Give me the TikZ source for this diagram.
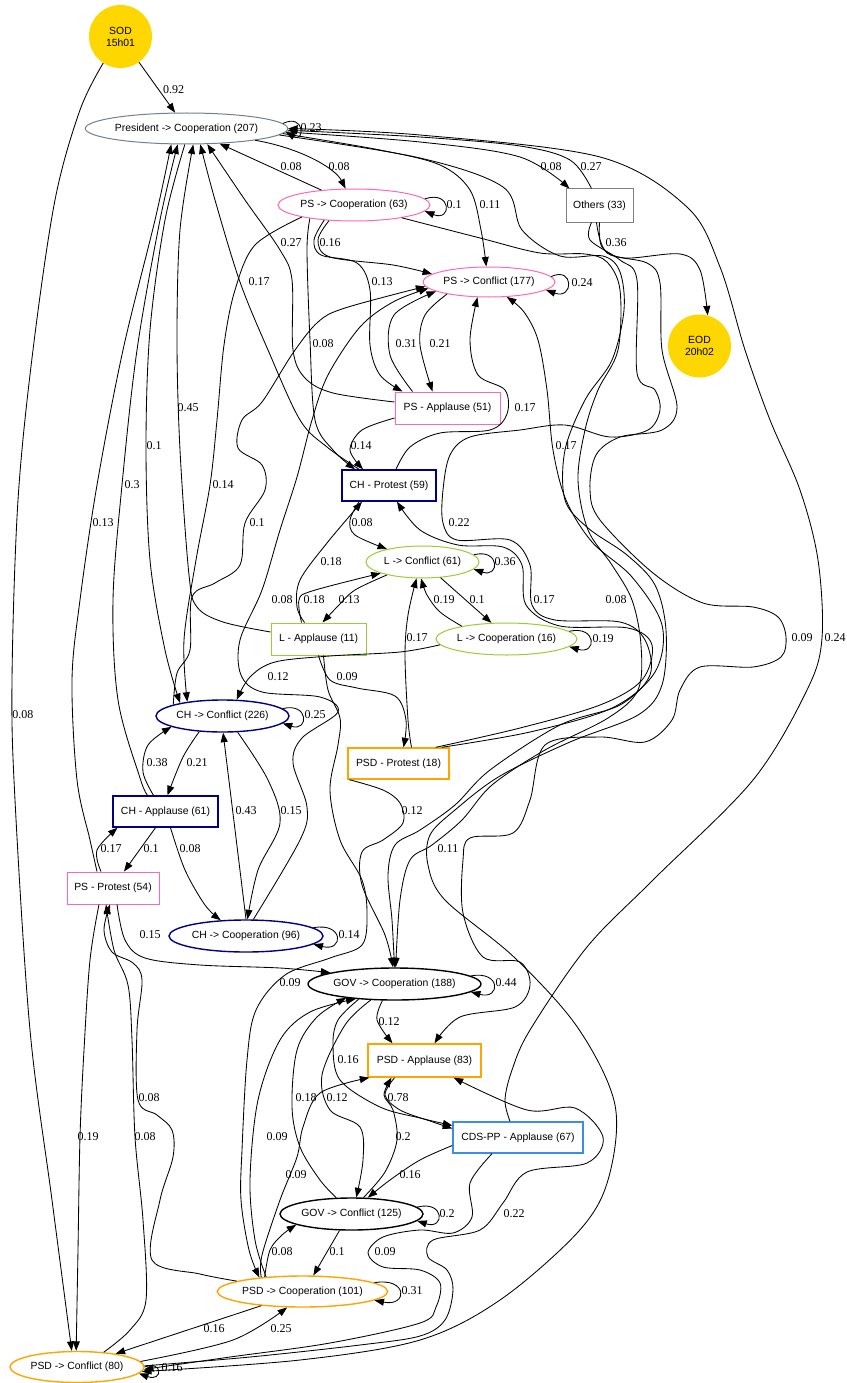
\documentclass[tikz,border=0pt]{standalone}
\usepackage{fontspec}
\newfontfamily\nodefam{Liberation Sans}
\newfontfamily\lblfam{Liberation Serif}
\usetikzlibrary{shapes.geometric,arrows.meta}
\definecolor{gold}{HTML}{FFD700}
\definecolor{slate}{HTML}{708090}
\definecolor{hpink}{HTML}{FF69B4}
\definecolor{navyc}{HTML}{000080}
\definecolor{ygreen}{HTML}{9ACD32}
\definecolor{orangec}{HTML}{FFA500}
\definecolor{cdsblue}{HTML}{3A8EE6}
\definecolor{grayc}{HTML}{808080}
\begin{document}
\begin{tikzpicture}[x=1pt,y=-1pt,
  nell/.style={ellipse, draw, inner sep=0pt, line width=1pt, font=\nodefam\fontsize{10.4}{12}\selectfont},
  nbox/.style={rectangle, draw, inner sep=0pt, line width=1pt, font=\nodefam\fontsize{10.4}{12}\selectfont},
  ncirc/.style={circle, fill=gold, inner sep=0pt, minimum size=63, align=center, font=\nodefam\fontsize{10.4}{12}\selectfont},
  heavy/.style={line width=1.4pt},
  lbl/.style={inner sep=0pt, font=\lblfam\fontsize{12}{12}\selectfont},
  edg/.style={-{Triangle[length=9.5pt,width=7pt]}, line width=0.85pt},
  sm/.style={smooth, tension=0.55}
]
\useasboundingbox (0,0) rectangle (846,1383);

% ---------------- nodes
\node[ncirc] (SOD) at (120.5,36.5) {SOD\\15h01};
\node[ncirc] (EOD) at (699.5,346) {EOD\\20h02};
\node[nell, draw=slate, minimum width=197, minimum height=31] (PresCoop) at (186.5,128.5) {President -> Cooperation (207)};
\node[nell, draw=hpink, minimum width=152, minimum height=32] (PSCoop) at (354,205) {PS -> Cooperation (63)};
\node[nbox, draw=grayc, minimum width=67, minimum height=33] (Others) at (599.5,205.5) {Others (33)};
\node[nell, draw=hpink, minimum width=132, minimum height=30] (PSConf) at (489,282) {PS -> Conflict (177)};
\node[nbox, draw=hpink, minimum width=105, minimum height=32] (PSApp) at (447.5,408) {PS - Applause (51)};
\node[nbox, draw=navyc, heavy, minimum width=94, minimum height=31] (CHProt) at (389,485.5) {CH - Protest (59)};
\node[nell, draw=ygreen, minimum width=113, minimum height=32] (LConf) at (422.5,562) {L -> Conflict (61)};
\node[nbox, draw=ygreen, minimum width=95, minimum height=32] (LApp) at (318.5,639) {L - Applause (11)};
\node[nell, draw=ygreen, minimum width=141, minimum height=32] (LCoop) at (506.5,639) {L -> Cooperation (16)};
\node[nell, draw=navyc, heavy, minimum width=133, minimum height=32] (CHConf) at (222.5,716) {CH -> Conflict (226)};
\node[nbox, draw=orangec, heavy, minimum width=101, minimum height=31] (PSDProt) at (398.5,763.5) {PSD - Protest (18)};
\node[nbox, draw=navyc, heavy, minimum width=105, minimum height=31] (CHApp) at (165.5,811.5) {CH - Applause (61)};
\node[nbox, draw=hpink, minimum width=92, minimum height=32] (PSProt) at (113,888) {PS - Protest (54)};
\node[nell, draw=navyc, heavy, minimum width=154, minimum height=32] (CHCoop) at (246,936) {CH -> Cooperation (96)};
\node[nell, draw=black, heavy, minimum width=171, minimum height=32] (GOVCoop) at (394.5,984) {GOV -> Cooperation (188)};
\node[nbox, draw=orangec, heavy, minimum width=113, minimum height=33] (PSDApp) at (424.5,1060.5) {PSD - Applause (83)};
\node[nbox, draw=cdsblue, heavy, minimum width=130, minimum height=31] (CDSApp) at (518,1137.5) {CDS-PP - Applause (67)};
\node[nell, draw=black, heavy, minimum width=143, minimum height=32] (GOVConf) at (351.5,1214) {GOV -> Conflict (125)};
\node[nell, draw=orangec, heavy, minimum width=169, minimum height=31] (PSDCoop) at (302.5,1291.5) {PSD -> Cooperation (101)};
\node[nell, draw=orangec, heavy, minimum width=134, minimum height=31] (PSDConf) at (77,1367) {PSD -> Conflict (80)};

% ---------------- top edges
\draw[edg] (SOD) -- (PresCoop);
\draw[edg] plot[sm] coordinates {(SOD.-123) (80,110) (55,200) (33,350) (18,500) (12,680) (15,800) (30,1030) (52,1200) (PSDConf.108)};
\draw[edg] (PresCoop.3) .. controls (305,113) and (305,143) .. (PresCoop.-2);
\draw[edg] (PSCoop) -- (PresCoop);
\draw[edg] (PresCoop) .. controls (300,148) and (335,168) .. (PSCoop);
\draw[edg] (PSCoop.5) .. controls (452,190) and (452,222) .. (PSCoop.-5);
\draw[edg] plot[sm] coordinates {(PresCoop.-3) (380,150) (440,165) (470,190) (481,230) (PSConf.100)};
\draw[edg] plot[sm] coordinates {(PresCoop.-2) (420,142) (520,157) ([xshift=4]Others.north west)};
\draw[edg] plot[sm] coordinates {([xshift=-8]Others.north) (570,160) (520,146) (420,137) (PresCoop.-1)};
\draw[edg] plot[sm] coordinates {(Others.south) (602,247) (625,258) (680,254) (700,270) (EOD.75)};
\draw[edg] plot[sm] coordinates {([yshift=6]PSApp.west) (333,393) (305,378) (293,350) (292,280) (280,250) (245,200) (PresCoop.-37)};
\draw[edg] plot[sm] coordinates {(PSCoop.-148) (318,240) (330,257) (393,265) (PSConf.172)};
\draw[edg] plot[sm] coordinates {(PSCoop.-153) (314,240) (321,255) (357,263) (370,290) (370,345) (380,375) ([xshift=-45]PSApp.north)};
\draw[edg] (PSConf.5) .. controls (574,266) and (574,300) .. (PSConf.-8);
\draw[edg] plot[sm] coordinates {([xshift=-30]CHProt.north) (327,447) (300,420) (268,350) (240,282) (215,200) (PresCoop.-49)};
\draw[edg] plot[sm] coordinates {(PSCoop.-163) (307,250) (310,340) (315,420) (333,450) ([xshift=-34]CHProt.north)};
\draw[edg] plot[sm] coordinates {([xshift=-35]PSApp.north) (390,355) (394,315) (PSConf.-170)};
\draw[edg] plot[sm] coordinates {(PSConf.-164) (425,315) (420,345) ([xshift=-15]PSApp.north)};
\draw[edg] plot[sm] coordinates {([yshift=7]LApp.west) (223,622) (197,607) (189,575) (180,450) (177,340) (180,230) (PresCoop.-67)};
\draw[edg] plot[sm] coordinates {(PresCoop.-96) (165,220) (150,330) (146,446) (150,560) (165,650) (CHConf.163)};
\draw[edg] plot[sm] coordinates {([xshift=-18]CHApp.north) (140,778) (118,700) (113,600) (122,485) (137,350) (160,220) (PresCoop.-119)};
\draw[edg] plot[sm] coordinates {([xshift=-16]PSProt.north) (90,840) (77,780) (72,680) (80,600) (97,485) (123,350) (155,220) (PresCoop.-134)};
\draw[edg] plot[sm] coordinates {(PSCoop.-167) (255,245) (235,290) (224,345) (217,420) (210,485) (196,560) (184,640) (CHConf.158)};
\draw[edg] plot[sm] coordinates {(CHConf.167) (177,673) (190,650) (192,597) (215,583) (240,565) (245,523) (265,490) (262,465) (238,448) (242,420) (262,402) (293,353) (318,322) (345,308) (PSConf.-176)};
\draw[edg] plot[sm] coordinates {(CHCoop.66) (300,840) (307,807) (293,763) (302,738) (338,712) (320,697) (262,692) (241,675) (240,640) (262,590) (280,530) (297,477) (312,420) (328,375) (360,327) (393,302) (PSConf.-174)};

% ---------------- middle edges
\draw[edg] plot[sm] coordinates {([xshift=-14]LApp.north) (297,607) (300,580) (327,543) ([xshift=-27]CHProt.south)};
\draw[edg] plot[sm] coordinates {([xshift=-30]CHProt.south) (350,520) (355,535) (LConf.160)};
\draw[edg] (LConf.8) .. controls (500,548) and (500,578) .. (LConf.-8);
\draw[edg] plot[sm] coordinates {([xshift=-17]LApp.north) (299,600) (312,591) (LConf.-165)};
\draw[edg] plot[sm] coordinates {(LConf.-160) (355,590) (338,606) ([xshift=4]LApp.north)};
\draw[edg] plot[sm] coordinates {(LCoop.164) (440,612) (427,595) (LConf.-95)};
\draw[edg] (LConf.-41) -- (LCoop.133);
\draw[edg] (LCoop.7) .. controls (597,625) and (597,655) .. (LCoop.-7);
\draw[edg] plot[sm] coordinates {([xshift=13]PSDProt.north) (408,720) (405,655) (408,615) (LConf.-110)};
\draw[edg] plot[sm] coordinates {(LCoop.-175) (400,652) (330,656) (275,662) (250,677) (CHConf.49)};
\draw[edg] plot[sm] coordinates {(LApp.south) (330,680) (357,688) (395,696) (406,720) ([xshift=5]PSDProt.north)};
\draw[edg] plot[sm] coordinates {([yshift=-10]PSApp.west) (362,430) (350,450) ([xshift=-26]CHProt.north)};
\draw[edg] plot[sm] coordinates {([xshift=7]CHProt.north) (410,447) (440,433) (490,430) (507,414) (505,390) (478,375) (470,340) (PSConf.-127)};
\draw[edg] (CHConf.7) .. controls (309,702) and (309,732) .. (CHConf.-7);
\draw[edg] plot[sm] coordinates {([xshift=-12]CHApp.north) (143,772) (148,745) (CHConf.-168)};
\draw[edg] plot[sm] coordinates {(CHConf.-146) (183,757) ([xshift=2]CHApp.north)};
\draw[edg] (CHCoop.90) -- (CHConf.-88);
\draw[edg] plot[sm] coordinates {(CHConf.-47) (268,780) (280,823) (258,870) (CHCoop.85)};
\draw[edg] (CHCoop.7) .. controls (344,922) and (344,952) .. (CHCoop.-7);
\draw[edg] plot[sm] coordinates {([xshift=-12]PSProt.north) (97,850) ([xshift=-48]CHApp.south)};
\draw[edg] ([xshift=-10]CHApp.south) -- ([xshift=11]PSProt.north);
\draw[edg] plot[sm] coordinates {([xshift=5]CHApp.south) (185,870) (205,905) (CHCoop.148)};
\draw[edg] plot[sm] coordinates {([xshift=4]PSProt.south) (125,940) (145,958) (200,965) (280,968) (GOVCoop.170)};
\draw[edg] plot[sm] coordinates {([xshift=2]PSDProt.south west) (383,790) (400,803) (403,823) (383,840) (362,852) (362,885) (385,935) (GOVCoop.95)};

% ---------------- right long edges
\draw[edg] plot[sm] coordinates {([xshift=-14]PSDProt.north east) (520,728) (600,705) (642,680) (652,645) (628,628) (560,626) (526,605) (522,565) (503,547) (458,545) (420,530) ([xshift=8]CHProt.south)};
\draw[edg] plot[sm] coordinates {([xshift=-8]PSDProt.north east) (530,732) (612,708) (655,672) (662,625) (632,577) (592,542) (566,500) (553,450) (547,390) (538,340) (524,312) (PSConf.-40)};
\draw[edg] plot[sm] coordinates {(PSCoop.-15) (480,238) (540,253) (585,254) (607,262) (620,290) (618,350) (598,390) (585,430) (578,480) (588,530) (612,565) (632,600) (641,645) (638,690) (608,718) (545,750) (492,785) (462,820) (432,845) (410,860) (400,900) (GOVCoop.86)};
\draw[edg] plot[sm] coordinates {([xshift=-8]Others.south) (590,240) (620,260) (637,280) (637,373) (655,390) (660,410) (648,430) (610,437) (565,425) (520,430) (470,437) (450,455) (443,490) (443,523) (457,540) (510,540) (530,565) (532,605) (555,620) (620,622) (645,640) (650,675) (620,705) (560,725) (490,770) (455,805) (420,830) (395,845) (388,875) (392,920) (GOVCoop.90)};
\draw[edg] plot[sm] coordinates {([xshift=-3]Others.south) (607,253) (647,263) (660,283) (662,350) (677,407) (662,430) (620,437) (596,455) (590,490) (600,520) (653,573) (703,603) (753,607) (778,617) (786,637) (781,657) (753,667) (700,667) (680,690) (672,720) (645,742) (600,737) (545,745) (530,800) (513,833) (470,838) (463,860) (463,913) (483,957) (520,962) (530,985) (515,1007) (460,1017) ([xshift=10]PSDApp.north)};
\draw[edg] plot[sm] coordinates {(PresCoop.-4) (420,158) (503,187) (522,230) (560,256) (603,256) (620,272) (624,310) (612,360) (585,400) (565,450) (565,500) (588,528) (627,555) (655,585) (666,630) (662,685) (638,715) (570,742) (500,776) (455,810) (430,835) (428,865) (445,900) (515,958) (578,1028) (615,1105) (608,1180) (578,1232) (500,1300) (420,1340) (300,1360) (PSDConf.-4)};
\draw[edg] plot[sm] coordinates {([xshift=-8]CDSApp.north) (505,1100) (512,1070) (530,1030) (587,947) (653,880) (753,780) (807,690) (822,638) (818,560) (800,490) (770,420) (745,350) (720,267) (687,207) (600,157) (420,135) (PresCoop.0)};

% ---------------- bottom edges
\draw[edg] (GOVCoop.6) .. controls (501,970) and (501,1000) .. (GOVCoop.-6);
\draw[edg] plot[sm] coordinates {(GOVCoop.-126) (377,1020) ([xshift=-32]PSDApp.north)};
\draw[edg] plot[sm] coordinates {(GOVCoop.-157) (338,1020) (333,1045) (340,1080) (380,1107) (420,1118) ([yshift=12]CDSApp.west)};
\draw[edg] plot[sm] coordinates {(PSDCoop.161) (262,1255) (280,1200) (297,1157) (303,1127) (320,1093) ([xshift=2]PSDApp.south west)};
\draw[edg] plot[sm] coordinates {(GOVCoop.-146) (345,1025) (322,1075) (330,1110) (360,1127) (363,1160) (GOVConf.74)};
\draw[edg] plot[sm] coordinates {(GOVConf.133) (320,1180) (300,1147) (292,1107) (297,1050) (317,1017) (GOVCoop.-164)};
\draw[edg] plot[sm] coordinates {(PSDCoop.158) (255,1240) (250,1180) (258,1100) (280,1040) (310,1012) (GOVCoop.-159)};
\draw[edg] plot[sm] coordinates {([xshift=-30]PSDApp.south) (385,1095) (400,1110) (430,1121) ([yshift=9]CDSApp.west)};
\draw[edg] plot[sm] coordinates {(GOVConf.54) (385,1172) (397,1140) (393,1110) (384,1095) ([xshift=-33]PSDApp.south)};
\draw[edg] plot[sm] coordinates {([yshift=-8]CDSApp.west) (420,1160) (390,1180) (GOVConf.45)};
\draw[edg] (GOVConf.6) .. controls (445,1200) and (445,1230) .. (GOVConf.-6);
\draw[edg] plot[sm] coordinates {(PSDCoop.159) (270,1250) (282,1235) (GOVConf.-169)};
\draw[edg] (GOVConf.-126) -- (PSDCoop.56);
\draw[edg] (PSDCoop.7) .. controls (408,1277) and (408,1307) .. (PSDCoop.-7);
\draw[edg] (PSDCoop.-161) -- (PSDConf.19);
\draw[edg] plot[sm] coordinates {(PSDConf.5) (233,1340) (PSDCoop.-134)};
\draw[edg] (PSDConf.0) .. controls (163,1360) and (163,1382) .. (PSDConf.-6);
\draw[edg] plot[sm] coordinates {(PSDCoop.171) (200,1274) (152,1260) (160,1200) (173,1157) (172,1130) (157,1115) (138,1100) (137,1030) (142,980) (133,963) (112,952) (104,930) ([xshift=-3]PSProt.south)};
\draw[edg] plot[sm] coordinates {(PSDConf.29) (130,1330) (146,1300) (143,1220) (135,1137) (132,1040) (128,985) (114,950) ([xshift=-7]PSProt.south)};
\draw[edg] plot[sm] coordinates {([xshift=-14]PSProt.south) (90,960) (84,1050) (80,1137) (78,1250) (PSDConf.93)};
\draw[edg] plot[sm] coordinates {([xshift=5]LApp.south) (328,690) (340,718) (338,745) (330,790) (340,840) (362,880) (367,913) (362,945) (330,958) (285,975) (256,1010) (247,1060) (242,1150) (241,1200) (249,1250) (PSDCoop.162)};
\draw[edg] plot[sm] coordinates {(PSDConf.1) (250,1357) (360,1345) (420,1336) (445,1320) (453,1290) (447,1270) (428,1257) (433,1240) (480,1230) (503,1203) (527,1172) (587,1163) (603,1137) (575,1108) (527,1110) ([xshift=-28]PSDApp.south east)};
\draw[edg] plot[sm] coordinates {([xshift=-26]CDSApp.south) (470,1183) (472,1217) (453,1233) (420,1230) (383,1237) (368,1253) (383,1267) (420,1270) (440,1283) (436,1307) (420,1323) (330,1343) (230,1357) (PSDConf.-2)};

% ---------------- labels
\node[lbl] (l01) at (173.5,90) {0.92};
\node[lbl] (l02) at (23,715) {0.08};
\node[lbl] (l03) at (311,128) {0.23};
\node[lbl] (l04) at (291,167) {0.08};
\node[lbl] (l05) at (339,167) {0.08};
\node[lbl] (l06) at (454,205) {0.1};
\node[lbl] (l07) at (490,205) {0.11};
\node[lbl] (l08) at (551,167) {0.08};
\node[lbl] (l09) at (591,167) {0.27};
\node[lbl] (l10) at (616,243) {0.36};
\node[lbl] (l11) at (291,243) {0.27};
\node[lbl] (l12) at (330,243) {0.16};
\node[lbl] (l13) at (382,282) {0.13};
\node[lbl] (l14) at (582,283) {0.24};
\node[lbl] (l15) at (259,282) {0.17};
\node[lbl] (l16) at (323,344) {0.08};
\node[lbl] (l17) at (406,344) {0.31};
\node[lbl] (l18) at (440,344) {0.21};
\node[lbl] (l19) at (188,408) {0.45};
\node[lbl] (l20) at (154,446) {0.1};
\node[lbl] (l21) at (132,485) {0.3};
\node[lbl] (l22) at (103,523) {0.13};
\node[lbl] (l23) at (223,485) {0.14};
\node[lbl] (l24) at (257,523) {0.1};
\node[lbl] (l25) at (282,600) {0.08};
\node[lbl] (l26) at (331,562) {0.18};
\node[lbl] (l27) at (362,523) {0.08};
\node[lbl] (l28) at (505,562) {0.36};
\node[lbl] (l29) at (314,600) {0.18};
\node[lbl] (l30) at (349,600) {0.13};
\node[lbl] (l31) at (444,600) {0.19};
\node[lbl] (l32) at (477,600) {0.1};
\node[lbl] (l33) at (603,639) {0.19};
\node[lbl] (l34) at (417,638) {0.17};
\node[lbl] (l35) at (278,677) {0.12};
\node[lbl] (l36) at (347,677) {0.09};
\node[lbl] (l37) at (315,715) {0.25};
\node[lbl] (l38) at (157,763) {0.38};
\node[lbl] (l39) at (197,763) {0.21};
\node[lbl] (l40) at (246,811) {0.43};
\node[lbl] (l41) at (291,811) {0.15};
\node[lbl] (l42) at (349,935) {0.14};
\node[lbl] (l43) at (111,849) {0.17};
\node[lbl] (l44) at (151,849) {0.1};
\node[lbl] (l45) at (190,849) {0.08};
\node[lbl] (l46) at (150,935) {0.15};
\node[lbl] (l47) at (506,983) {0.44};
\node[lbl] (l48) at (389,1022) {0.12};
\node[lbl] (l49) at (412,811) {0.12};
\node[lbl] (l50) at (459,523) {0.22};
\node[lbl] (l51) at (348,1060) {0.16};
\node[lbl] (l52) at (306,1098) {0.18};
\node[lbl] (l53) at (337,1098) {0.12};
\node[lbl] (l54) at (296,1175) {0.09};
\node[lbl] (l55) at (277,1137) {0.09};
\node[lbl] (l56) at (398,1098) {0.78};
\node[lbl] (l57) at (403,1137) {0.2};
\node[lbl] (l58) at (410,1175) {0.16};
\node[lbl] (l59) at (447,1214) {0.2};
\node[lbl] (l60) at (282,1252) {0.08};
\node[lbl] (l61) at (337,1252) {0.1};
\node[lbl] (l62) at (412,1291) {0.31};
\node[lbl] (l63) at (214,1329) {0.16};
\node[lbl] (l64) at (281,1329) {0.25};
\node[lbl] (l65) at (172,1368) {0.16};
\node[lbl] (l66) at (149,1098) {0.08};
\node[lbl] (l67) at (145,1137) {0.08};
\node[lbl] (l68) at (88,1137) {0.19};
\node[lbl] (l69) at (290,983) {0.09};
\node[lbl] (l70) at (514,1214) {0.22};
\node[lbl] (l71) at (385,1252) {0.09};
\node[lbl] (l72) at (448,849) {0.11};
\node[lbl] (l73) at (835,638) {0.24};
\node[lbl] (l74) at (802,638) {0.09};
\node[lbl] (l76) at (544,600) {0.17};
\node[lbl] (l77) at (566,446) {0.17};
\node[lbl] (l78) at (616,600) {0.08};
\node[lbl] (l79) at (525,408) {0.17};
\node[lbl] (l80) at (361,446) {0.14};
\end{tikzpicture}
\end{document}
